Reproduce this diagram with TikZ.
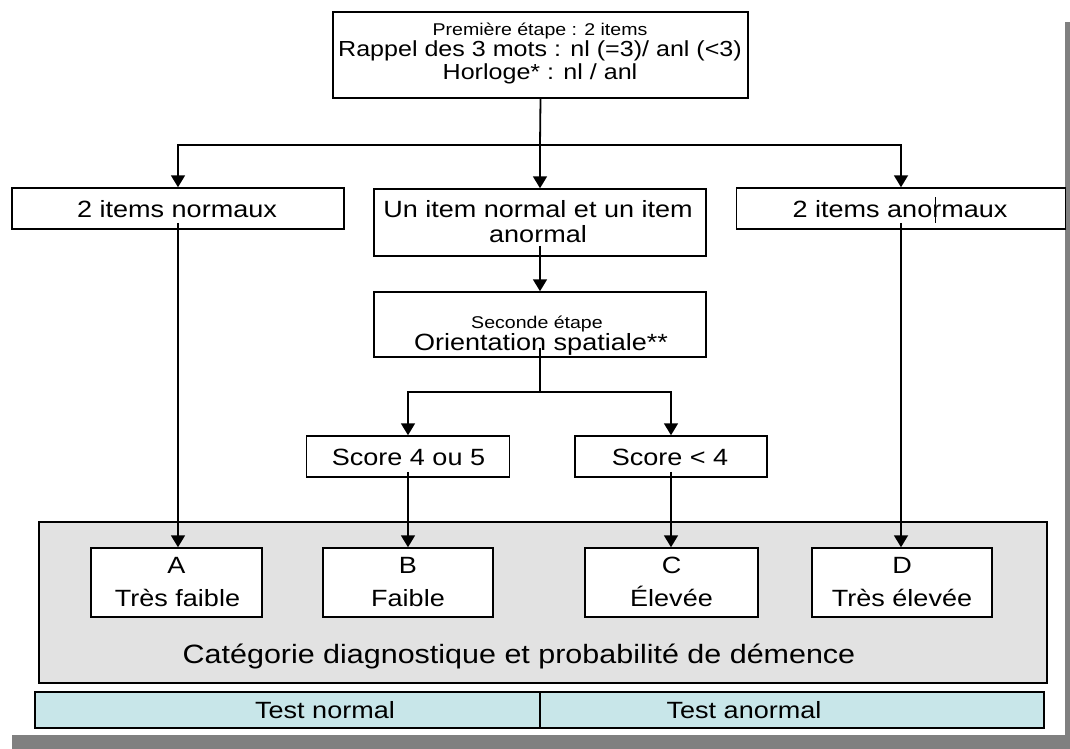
\documentclass[tikz,border=0pt]{standalone}
\usepackage{fontspec}
\setmainfont[FakeStretch=1.15]{Liberation Sans}
\usetikzlibrary{arrows.meta}
\definecolor{panelgray}{HTML}{E2E2E2}
\definecolor{barcyan}{HTML}{C8E6E9}
\definecolor{shadowgray}{HTML}{808080}
\begin{document}
\begin{tikzpicture}[x=1pt,y=-1pt,
  box/.style={draw, line width=1.5pt, fill=white, inner sep=0pt, rectangle},
  lbl/.style={inner sep=0pt, anchor=base, font=\fontsize{23.5}{23.5}\selectfont},
  toplbl/.style={inner sep=0pt, anchor=base, font=\fontsize{21.8}{21.8}\selectfont},
  smalllbl/.style={inner sep=0pt, anchor=base, font=\fontsize{17}{17}\selectfont},
  biglbl/.style={inner sep=0pt, anchor=base, font=\fontsize{26.5}{26.5}\selectfont},
  conn/.style={line width=1.8pt},
  arr/.style={conn, -{Triangle[width=14pt,length=12pt]}}]
\useasboundingbox (0,0) rectangle (1070,749);
\fill[white] (0,0) rectangle (1070,749);
% shadow
\fill[shadowgray] (1065,22) rectangle (1070,749);
\fill[shadowgray] (12,735) rectangle (1070,749);

% panel and bar
\node[box, fill=panelgray, minimum width=1008pt, minimum height=161pt] (panel) at (543,602.5) {};
\node[box, fill=barcyan, minimum width=505pt, minimum height=36pt] (cellL) at (287.5,710) {};
\node[box, fill=barcyan, minimum width=504pt, minimum height=36pt] (cellR) at (792,710) {};
\node[lbl] (tn) at (325,718) {Test normal};
\node[lbl] (ta) at (744,718) {Test anormal};
\node[biglbl] (cat) at (519,663) {Catégorie diagnostique et probabilité de démence};

% top box
\node[box, minimum width=415pt, minimum height=86pt] (top) at (540.5,55) {};
\node[smalllbl] (top1) at (540,36) {Première étape : 2 items};
\node[toplbl] (top2) at (540,57) {Rappel des 3 mots : nl (=3)/ anl (<3)};
\node[toplbl] (top3) at (540,80) {Horloge* : nl / anl};

% second row
\node[box, minimum width=332pt, minimum height=41pt] (L) at (178,208.5) {};
\node[lbl] (Lt) at (177,217) {2 items normaux};
\node[box, minimum width=332pt, minimum height=67pt] (M) at (540,222.5) {};
\node[lbl] (Mt1) at (538,217) {Un item normal et un item};
\node[lbl] (Mt2) at (538,242) {anormal};
\node[box, minimum width=329pt, minimum height=41pt] (R) at (901,208.5) {};
\node[lbl] (Rt) at (900,217) {2 items anormaux};
\draw[line width=1pt] (935,197) -- (935,223);

% second step
\node[box, minimum width=332pt, minimum height=65pt] (S) at (540,324.5) {};
\node[smalllbl] (St1) at (537,328) {Seconde étape};
\node[lbl] (St2) at (541,350) {Orientation spatiale**};

% scores
\node[box, minimum width=203pt, minimum height=41pt] (S1) at (408,456.5) {};
\node[lbl] (S1t) at (408.5,465) {Score 4 ou 5};
\node[box, minimum width=192pt, minimum height=41pt] (S2) at (671,456.5) {};
\node[lbl] (S2t) at (670,465) {Score < 4};

% categories
\node[box, minimum width=171pt, minimum height=69pt] (A) at (176.5,582.5) {};
\node[lbl] (Aa) at (176.5,573) {A};
\node[lbl] (Ab) at (177.5,606) {Très faible};
\node[box, minimum width=170pt, minimum height=69pt] (B) at (408,582.5) {};
\node[lbl] (Ba) at (408,573) {B};
\node[lbl] (Bb) at (408,606) {Faible};
\node[box, minimum width=173pt, minimum height=69pt] (C) at (671.5,582.5) {};
\node[lbl] (Ca) at (671.5,573) {C};
\node[lbl] (Cb) at (671.5,606) {Élevée};
\node[box, minimum width=180pt, minimum height=69pt] (D) at (902,582.5) {};
\node[lbl] (Da) at (902,573) {D};
\node[lbl] (Db) at (902,606) {Très élevée};

% connectors
\coordinate (j1) at (540,145);
\coordinate (j2) at (540,392);
\draw[conn] (top.south) -- (j1);
\draw[arr] (j1) -| (L.north);
\draw[arr] (j1) -- (M.north);
\draw[arr] (j1) -| (R.north);
\draw[arr] ([yshift=7pt]L.south) -- (L.south |- A.north);
\draw[arr] ([yshift=7pt]R.south) -- (R.south |- D.north);
\draw[arr] ([yshift=11pt]M.south) -- (S.north);
\draw[conn] ([yshift=10pt]S.south) -- (j2);
\draw[arr] (j2) -| (S1.north);
\draw[arr] (j2) -| (S2.north);
\draw[arr] ([yshift=6pt]S1.south) -- (S1.south |- B.north);
\draw[arr] ([yshift=6pt]S2.south) -- (S2.south |- C.north);
\end{tikzpicture}
\end{document}
